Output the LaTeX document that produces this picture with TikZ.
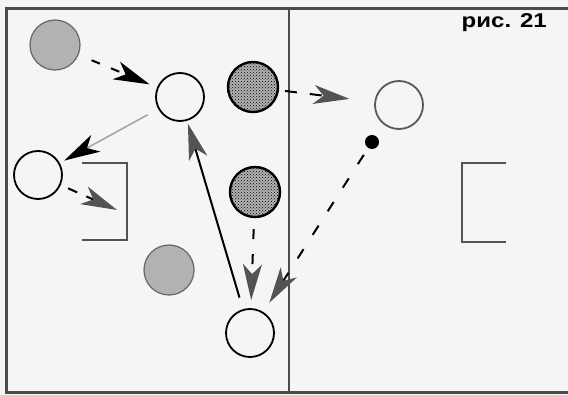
\documentclass[tikz,border=0pt]{standalone}
\usepackage{fontspec}
\newfontfamily\figfont{Liberation Sans}
\usetikzlibrary{arrows.meta,patterns}

\begin{document}
\begin{tikzpicture}[x=1pt,y=-1pt,
    puck/.style={circle,draw=black,line width=1.8pt,minimum size=48pt,inner sep=0pt},
    greyball/.style={circle,draw=gray!80!black,fill=gray!60,line width=1.2pt,minimum size=50pt,inner sep=0pt},
    dotball/.style={circle,draw=black,line width=2.4pt,minimum size=50pt,inner sep=0pt,
        preaction={fill=gray!60},pattern=crosshatch dots,pattern color=black},
    wall/.style={draw=gray!65!black,line width=2.4pt},
    blackfin/.style={-{Stealth[length=36pt,width=19pt,inset=10pt,color=black]}},
    greyfin/.style={-{Stealth[length=36pt,width=19pt,inset=10pt,color=gray!65!black]}}]
        \useasboundingbox (0,0) rectangle (568,395);
        \fill[gray!8] (0,0) rectangle (568,395);
        \draw[gray!60!black,line width=3pt] (568,9) -- (6,9) -- (6,393) -- (568,393);
        \draw[gray!60!black,line width=2.5pt] (289,9) -- (289,393);
        \node[anchor=base east,xscale=1.2,font=\figfont\bfseries\fontsize{20}{20}\selectfont] (title) at (551,28) {рис. 21};
        \node[greyball] (g1) at (55,45) {};
        \node[greyball] (g2) at (169,270) {};
        \node[dotball] (t1) at (253,87) {};
        \node[dotball] (t2) at (255,192) {};
        \node[puck] (a) at (180,97) {};
        \node[puck] (b) at (38,175) {};
        \node[puck] (c) at (250,333) {};
        \node[puck,draw=gray!70!black] (r) at (399,105) {};
        \node[circle,fill=black,minimum size=14pt,inner sep=0pt] (dot) at (372,142) {};
        \coordinate (bend) at (117,210);
        \draw[wall] (82,163) -- (127,163) -- (127,240) -- (82,240);
        \draw[wall] (506,163) -- (462,163) -- (462,242) -- (506,242);
        \draw[blackfin,line width=2pt,dash pattern=on 9pt off 12pt,shorten <=14pt,shorten >=8pt] (g1) -- (a);
        \draw[blackfin,gray!70,line width=1.6pt,shorten <=12pt,shorten >=5pt] (a) -- (b);
        \draw[greyfin,line width=2pt,dash pattern=on 10pt off 10pt,shorten <=8pt] (b) -- (bend);
        \draw[greyfin,line width=2pt,shorten <=12pt,shorten >=3pt] (c) -- (a);
        \draw[greyfin,line width=2pt,dash pattern=on 10pt off 15pt,shorten <=11pt,shorten >=8pt] (t2) -- (c);
        \draw[greyfin,line width=2pt,dash pattern=on 11pt off 17pt,shorten <=8pt,shorten >=11pt] (dot) -- (c);
        \draw[greyfin,line width=2pt,dash pattern=on 12pt off 13pt,shorten <=6pt,shorten >=25pt] (t1) -- (r);
    \end{tikzpicture}
\end{document}
